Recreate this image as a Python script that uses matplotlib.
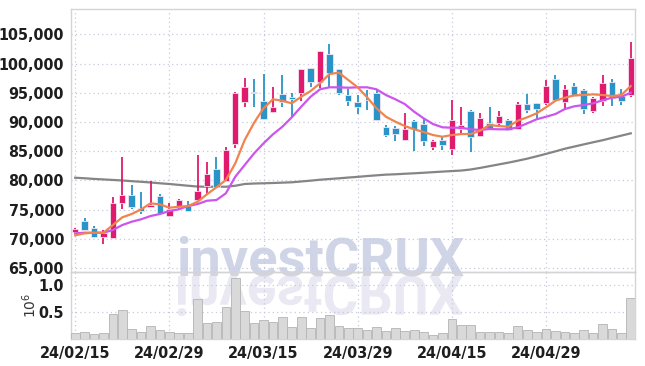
import numpy as np
import matplotlib
matplotlib.use('Agg')
import matplotlib.pyplot as plt
from matplotlib.ticker import FixedLocator, FuncFormatter
from matplotlib.textpath import TextPath
from matplotlib.patches import PathPatch
from matplotlib.font_manager import FontProperties
import matplotlib.font_manager as fm
import matplotlib.transforms as mtransforms

# ---------------- data ----------------
tick_idx = [0, 10, 20, 30, 40, 50]
tick_labels = ['24/02/15', '24/02/29', '24/03/15', '24/03/29', '24/04/15', '24/04/29']

opens = [71180, 73010, 71930, 70320, 70150, 76220, 77470, 75360, 75450, 77300,
         73920, 75470, 75580, 76730, 79010, 81960, 79960, 86230, 93470, 95180,
         93590, 91650, 94780, 94320, 94900, 99280, 96890, 101620, 99060, 94610,
         93470, 93800, 95010, 89190, 88920, 86910, 90170, 89650, 85670, 86910,
         85380, 88750, 91880, 87650, 89780, 89780, 90340, 88750, 93080, 93300,
         93300, 97300, 93470, 96150, 95470, 91930, 93640, 96780, 94440, 94610]
highs = [71930, 73640, 72270, 71590, 77180, 83930, 79300, 77950, 79920, 77750,
         76150, 76900, 76490, 84440, 83180, 83960, 85670, 95100, 97470, 97300,
         98200, 96030, 98030, 95010, 99100, 99300, 102200, 103330, 99100, 95580,
         94610, 95470, 95470, 89480, 89300, 91590, 90300, 90630, 86910, 87480,
         93760, 92610, 92050, 91480, 92610, 91930, 90460, 93420, 94730, 93300,
         97180, 98030, 96320, 96610, 95590, 94300, 98030, 97300, 95590, 103730]
lows = [70900, 71470, 70220, 69190, 70050, 75190, 75070, 74330, 75400, 74330,
        73750, 75190, 74610, 76610, 77470, 78900, 79900, 85500, 92510, 92510,
        90340, 91590, 92610, 90800, 93590, 96030, 95760, 96030, 94700, 92730,
        91310, 92050, 90170, 87380, 86700, 86900, 85000, 85890, 85210, 85210,
        84300, 88060, 84920, 87480, 88750, 89190, 88630, 88630, 91590, 90340,
        92900, 93760, 92050, 94320, 91370, 91500, 92780, 92780, 92900, 94320]
closes = [71640, 71470, 70320, 70950, 76100, 77470, 75410, 74780, 75880, 74450,
          75180, 76730, 74780, 78150, 81070, 78930, 85210, 95010, 96030, 95000,
          90460, 92560, 93360, 93880, 99060, 96890, 102190, 98430, 94900, 93640,
          92610, 93700, 90340, 87770, 87940, 88750, 88800, 86800, 86750, 86060,
          90340, 89480, 87480, 90630, 88920, 91020, 88630, 93080, 92050, 92220,
          96150, 93760, 95590, 94440, 92220, 94150, 96610, 94050, 93640, 100890]
volumes = [0.11, 0.13, 0.09, 0.105, 0.46, 0.54, 0.185, 0.13, 0.24, 0.167,
           0.13, 0.11, 0.11, 0.74, 0.29, 0.315, 0.59, 1.13, 0.52, 0.29,
           0.35, 0.315, 0.41, 0.22, 0.40, 0.21, 0.38, 0.44, 0.24, 0.21,
           0.21, 0.167, 0.215, 0.15, 0.20, 0.15, 0.167, 0.13, 0.074, 0.105,
           0.37, 0.25, 0.26, 0.13, 0.13, 0.13, 0.105, 0.24, 0.167, 0.13,
           0.185, 0.15, 0.13, 0.105, 0.16, 0.105, 0.27, 0.185, 0.105, 0.75]
ma5 = [70620, 70960, 71070, 71070, 72380, 73700, 74270, 75060, 76090, 75920,
       75340, 75510, 75630, 76370, 77650, 78830, 80080, 82930, 86920, 89880,
       92340, 93880, 93640, 93190, 94320, 95300, 96610, 98200, 98430, 97180,
       95930, 94220, 92340, 90900, 90050, 89310, 88750, 88290, 87770, 87480,
       87770, 87940, 87940, 88510, 89480, 89310, 89190, 90220, 90800, 91480,
       92510, 93640, 94150, 94560, 94610, 94730, 94610, 94440, 94610, 96150]
ma10 = [70960, 71070, 71070, 71070, 71530, 72380, 72950, 73360, 73920, 74270,
        74780, 75070, 75630, 75970, 76540, 76660, 77800, 80640, 82640, 84640,
        86350, 87890, 89190, 90800, 92610, 94320, 95590, 95930, 95930, 95860,
        95930, 95930, 95590, 94610, 93880, 93070, 91760, 90630, 89650, 89090,
        89020, 89020, 88750, 88630, 88800, 88750, 88750, 89090, 89770, 90460,
        90900, 91360, 92220, 92680, 92900, 93190, 93710, 94150, 94320, 95010]
ma60 = [80470, 80380, 80270, 80180, 80090, 80000, 79880, 79780, 79660, 79520,
        79400, 79250, 79100, 78960, 78930, 78930, 78930, 79100, 79400, 79480,
        79520, 79570, 79630, 79690, 79830, 79970, 80130, 80250, 80370, 80500,
        80620, 80760, 80880, 81000, 81060, 81150, 81230, 81320, 81420, 81520,
        81610, 81700, 81880, 82150, 82450, 82750, 83050, 83380, 83730, 84130,
        84550, 84980, 85430, 85800, 86170, 86530, 86880, 87280, 87670, 88060]
price_ticks = [65000, 70000, 75000, 80000, 85000, 90000, 95000, 100000, 105000]
vol_ticks = [0.5, 1.0]
watermark = 'investCRUX'


# ---------------- fonts ----------------
def pick_narrow(bold=True):
    best = None
    for f in fm.fontManager.ttflist:
        key = (f.name + ' ' + f.fname).lower()
        if not ('narrow' in key or 'condensed' in key or str(f.stretch) in ('condensed', 'semi-condensed')):
            continue
        score = 0
        w = f.weight if isinstance(f.weight, int) else {'bold': 700, 'normal': 400}.get(str(f.weight), 400)
        if bold:
            score += 3 if (w >= 600 or 'bold' in key) else 0
        if 'italic' in key or 'oblique' in key:
            score -= 10
        if 'light' in key or 'thin' in key or 'black' in key or 'extra' in key:
            score -= 2
        if best is None or score > best[0]:
            best = (score, f.fname)
    return best[1] if best else None


narrow_path = pick_narrow()
if narrow_path:
    LBL_FP = FontProperties(fname=narrow_path, size=11.5)
else:
    LBL_FP = FontProperties(family='Roboto', weight='bold', size=10)
WM_FP = FontProperties(family=['Roboto', 'Liberation Sans'], weight='bold')

# ---------------- style ----------------
UP = '#e01a6c'
DOWN = '#2a93c8'
GRID = '#c6cadc'
SPINE = '#d4d4d4'

fig = plt.figure(figsize=(6.45, 3.66), dpi=100)
fig.patch.set_facecolor('white')
ax = fig.add_axes([0.110, 0.2568, 0.8745, 0.7186])
axv = fig.add_axes([0.110, 0.0738, 0.8745, 0.1830], sharex=ax)
for a in (ax, axv):
    a.patch.set_alpha(0)
    for s in a.spines.values():
        s.set_color(SPINE)
        s.set_linewidth(1.0)
    a.grid(True, linestyle=(0, (1, 2.5)), color=GRID, linewidth=0.9)
    a.set_axisbelow(True)
    a.tick_params(length=0, pad=5)

x = np.arange(len(closes))
o = np.array(opens); c = np.array(closes); h = np.array(highs); l = np.array(lows)
up = c >= o
colors = np.where(up, UP, DOWN)
bottoms = np.minimum(o, c)
heights = np.maximum(np.abs(c - o), 120)

# moving averages
ax.plot(x, ma60, color='#858585', lw=1.6, zorder=2)
ax.plot(x, ma10, color='#cc55ee', lw=1.6, zorder=4)
ax.plot(x, ma5, color='#f0844e', lw=1.6, zorder=4)

# candles
ax.vlines(x, l, h, colors=colors, lw=1.3, zorder=3)
ax.bar(x, heights, bottom=bottoms, width=0.68, color=colors,
       edgecolor='#f2e4f2', linewidth=0.6, zorder=3)

ax.set_xlim(-0.45, 59.45)
ax.set_ylim(64350, 109320)
ax.yaxis.set_major_locator(FixedLocator(price_ticks))
ax.yaxis.set_major_formatter(FuncFormatter(lambda v, p: f'{int(v):,}'))
ax.xaxis.set_major_locator(FixedLocator(tick_idx))
ax.tick_params(labelbottom=False)
for t in ax.get_yticklabels():
    t.set_fontproperties(LBL_FP); t.set_color('#1e1e1e')

# volume
axv.bar(x, volumes, width=0.92, color='#d9d9d9', edgecolor='#b4b4b4', linewidth=0.6, zorder=3)
axv.set_ylim(0, 1.24)
axv.yaxis.set_major_locator(FixedLocator(vol_ticks))
axv.yaxis.set_major_formatter(FuncFormatter(lambda v, p: f'{v:.1f}'))
axv.set_xticks(tick_idx)
axv.set_xticklabels(tick_labels)
for t in axv.get_yticklabels() + axv.get_xticklabels():
    t.set_fontproperties(LBL_FP); t.set_color('#1e1e1e')
axv.set_ylabel('$10^{6}$', fontsize=10, color='#333333')
axv.yaxis.set_label_coords(-0.057, 0.5)

# watermark (behind the axes) with reflection; size fitted to the reference width
target_w_pt = 285 * 72 / 100.0
tp100 = TextPath((0, 0), watermark, size=100, prop=WM_FP)
e100 = tp100.get_extents()
WM_FS = 100 * target_w_pt / e100.width
wx, wy = 320 / 100.0, (366 - 276) / 100.0  # inches: centre x / baseline y
fig.text(wx / 6.45, wy / 3.66, watermark, fontproperties=WM_FP, fontsize=WM_FS,
         color='#cfd5e7', ha='center', va='baseline', zorder=-5)
tp = TextPath((0, 0), watermark, size=WM_FS, prop=WM_FP)
bb = tp.get_extents()
tr = (mtransforms.Affine2D().translate(-(bb.x0 + bb.x1) / 2, 0)
      .scale(1 / 72.0, -1 / 72.0).translate(wx, wy) + fig.dpi_scale_trans)
fig.patches.append(PathPatch(tp, transform=tr, facecolor='#e9e8f3',
                             edgecolor='none', zorder=-6, figure=fig))

fig.savefig('out.png', dpi=100, facecolor='white')
